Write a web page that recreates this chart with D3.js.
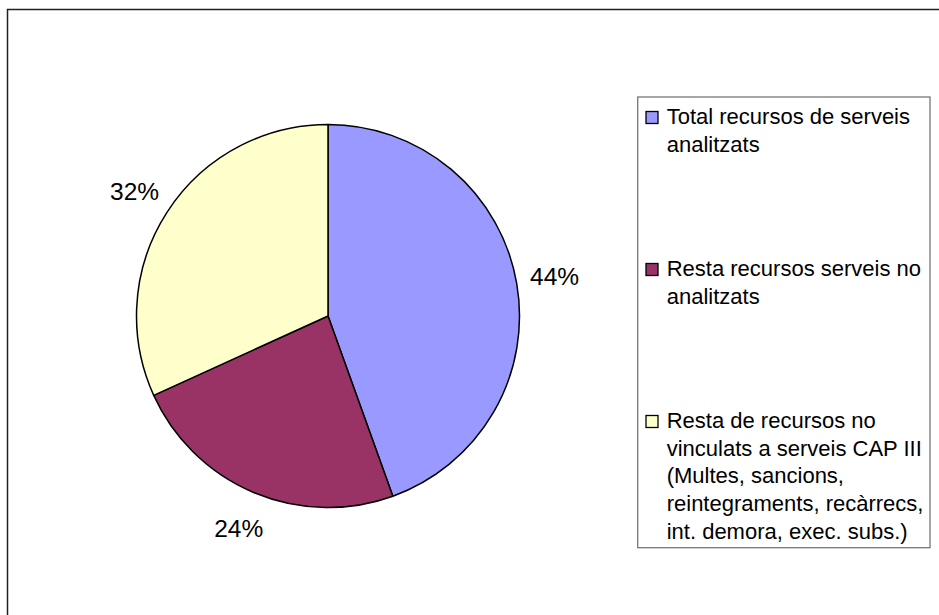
<!DOCTYPE html>
<html>
<head>
<meta charset="utf-8">
<script src="https://cdn.jsdelivr.net/npm/d3@7"></script>
<style>
  html, body { margin: 0; padding: 0; background: #fff; }
  svg { display: block; font-family: "Liberation Sans", Arial, sans-serif; }
</style>
</head>
<body>
<svg id="chart" width="939" height="615"></svg>
<script>
const categories = [
  "Total recursos de serveis\nanalitzats",
  "Resta recursos serveis no\nanalitzats",
  "Resta de recursos no\nvinculats a serveis CAP III\n(Multes, sancions,\nreintegraments, recàrrecs,\nint. demora, exec. subs.)"
];
const values = [44.5, 23.7, 31.8];
const labels = ["44%", "24%", "32%"];
const colors = ["#9999FF", "#993366", "#FFFFCC"];

const svg = d3.select("#chart");

// outer chart border (extends past right/bottom edge)
svg.append("rect")
  .attr("x", 7.5).attr("y", 9.5)
  .attr("width", 1000).attr("height", 1000)
  .attr("fill", "#fff").attr("stroke", "#222").attr("stroke-width", 1.5);

const cx = 328, cy = 316, r = 191.5;
const g = svg.append("g").attr("transform", `translate(${cx},${cy})`);

const pie = d3.pie().sort(null).value(d => d)
  .startAngle(0).endAngle(2 * Math.PI);
const arcs = pie(values);
const arc = d3.arc().innerRadius(0).outerRadius(r);

g.selectAll("path.slice").data(arcs).join("path")
  .attr("class", "slice")
  .attr("d", arc)
  .attr("fill", (d, i) => colors[i])
  .attr("stroke", "#000")
  .attr("stroke-width", 1.5)
  .attr("stroke-linejoin", "round");

const labelArc = d3.arc().innerRadius(230).outerRadius(230);
g.selectAll("text.pct").data(arcs).join("text")
  .attr("class", "pct")
  .attr("x", d => labelArc.centroid(d)[0])
  .attr("y", d => labelArc.centroid(d)[1])
  .attr("dy", "0.36em")
  .attr("text-anchor", "middle")
  .attr("font-size", 24.5)
  .attr("fill", "#000")
  .text((d, i) => labels[i]);

// legend
const lx = 637.7, ly = 97, lw = 292.3, lh = 450.7;
svg.append("rect")
  .attr("x", lx).attr("y", ly).attr("width", lw).attr("height", lh)
  .attr("fill", "#fff").attr("stroke", "#777").attr("stroke-width", 1.3);

const itemY = d3.scalePoint().domain(d3.range(categories.length)).range([124, 428]);
const lineH = 27.7;

const items = svg.selectAll("g.item").data(categories).join("g")
  .attr("class", "item")
  .attr("transform", (d, i) => `translate(0,${itemY(i)})`);

items.append("rect")
  .attr("x", 646).attr("y", -12.5)
  .attr("width", 12).attr("height", 12)
  .attr("fill", (d, i) => colors[i])
  .attr("stroke", "#000").attr("stroke-width", 1.3);

items.append("text")
  .attr("font-size", 22)
  .attr("fill", "#000")
  .selectAll("tspan").data(d => d.split("\n")).join("tspan")
  .attr("x", 666.7)
  .attr("y", (d, j) => j * lineH)
  .text(d => d);
</script>
</body>
</html>
